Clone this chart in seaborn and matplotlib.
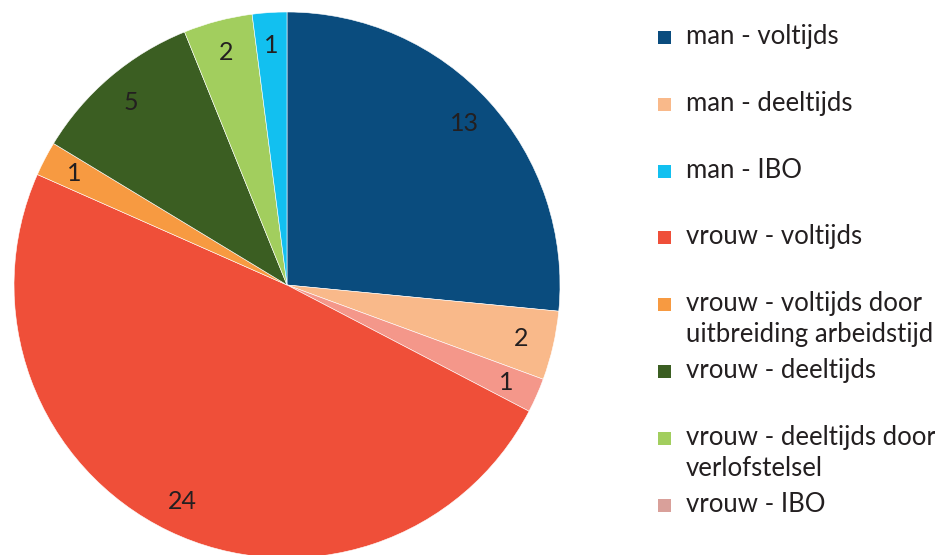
import matplotlib
matplotlib.use("Agg")
import matplotlib.pyplot as plt
import seaborn as sns
from matplotlib.patches import Rectangle

sns.set_theme(style="white")
plt.rcParams['font.family'] = ['Lato', 'DejaVu Sans']

# slices in clockwise order from 12 o'clock
slice_labels = ["man - voltijds", "man - deeltijds", "vrouw - IBO", "vrouw - voltijds",
                "vrouw - voltijds door uitbreiding arbeidstijd", "vrouw - deeltijds",
                "vrouw - deeltijds door verlofstelsel", "man - IBO"]
slice_values = [13, 2, 1, 24, 1, 5, 2, 1]
slice_colors = ["#0A4C7E", "#F9B98A", "#F4978A", "#EF4F39", "#F79A41", "#3B5E22", "#A2CE5E", "#12C0F0"]

# legend order
legend_labels = ["man - voltijds", "man - deeltijds", "man - IBO", "vrouw - voltijds",
                 "vrouw - voltijds door\nuitbreiding arbeidstijd", "vrouw - deeltijds",
                 "vrouw - deeltijds door\nverlofstelsel", "vrouw - IBO"]
legend_colors = ["#0A4C7E", "#F9B98A", "#12C0F0", "#EF4F39", "#F79A41", "#3B5E22", "#A2CE5E", "#D9A09A"]

W, H = 935, 555
fig = plt.figure(figsize=(W / 100, H / 100), dpi=100)
ax = fig.add_axes([14 / W, (H - 558) / H, 546 / W, 546 / H])

total = sum(slice_values)
txt_color = "#231F20"
wedges, texts, autotexts = ax.pie(
    slice_values, colors=slice_colors, startangle=90, counterclock=False,
    autopct=lambda p: f"{round(p * total / 100)}", pctdistance=0.88,
    wedgeprops=dict(edgecolor="white", linewidth=0.4),
    textprops=dict(color=txt_color, fontsize=18))
ax.set_xlim(-1, 1)
ax.set_ylim(-1, 1)
ax.set_aspect("equal")
ax.axis("off")

# legend drawn in figure pixel coordinates
step = 66.8
base0 = 44
for i, (lab, col) in enumerate(zip(legend_labels, legend_colors)):
    base = base0 + i * step
    fig.patches.append(Rectangle(((658) / W, (H - base) / H), 13 / W, 13 / H,
                                 transform=fig.transFigure, facecolor=col, edgecolor="none"))
    for j, line in enumerate(lab.split("\n")):
        fig.text(686 / W, (H - base - j * 31) / H, line, fontsize=18.5, color=txt_color,
                 ha="left", va="baseline")

fig.savefig("out.png", dpi=100)
